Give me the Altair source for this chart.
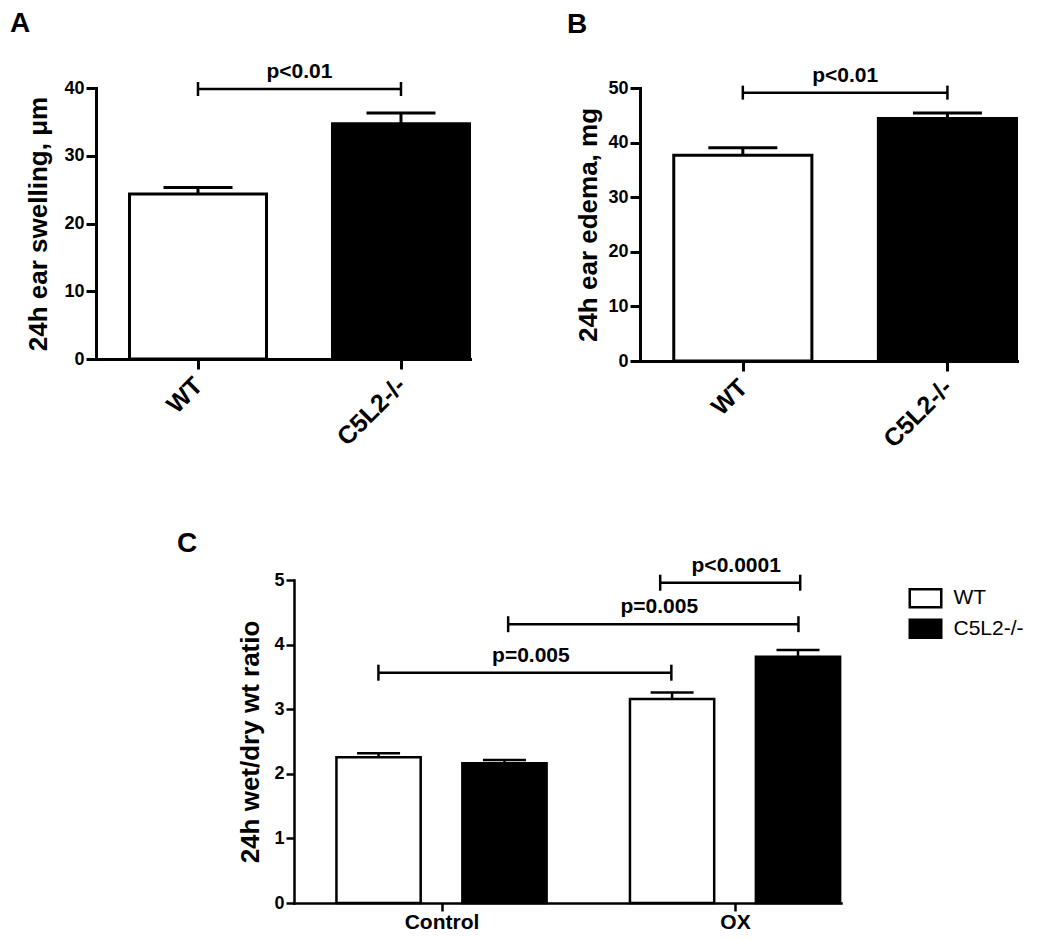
import json
import altair as alt
import pandas as pd

FONT = "Liberation Sans"

# ---------------- Panel A : 24h ear swelling ----------------
a_groups = ["WT", "C5L2-/-"]
a_means = [24.35, 34.73]
a_sems = [0.98, 1.57]
a_br_from = [1.0]
a_br_to = [2.0]
a_br_y = [39.85]
a_br_text = ["p<0.01"]
a_ticks = [0, 10, 20, 30, 40]

# ---------------- Panel B : 24h ear edema ----------------
b_groups = ["WT", "C5L2-/-"]
b_means = [37.7, 44.4]
b_sems = [1.35, 1.04]
b_br_from = [1.0]
b_br_to = [2.0]
b_br_y = [49.15]
b_br_text = ["p<0.01"]
b_ticks = [0, 10, 20, 30, 40, 50]

# ---------------- Panel C : wet/dry ratio ----------------
c_groups = ["Control", "OX"]
c_genotypes = ["WT", "C5L2-/-"]
c_cond = ["Control", "Control", "OX", "OX"]
c_geno = ["WT", "C5L2-/-", "WT", "C5L2-/-"]
c_means = [2.255, 2.163, 3.158, 3.81]
c_sems = [0.062, 0.051, 0.102, 0.106]
c_br_from = [0.785, 1.227, 1.745]
c_br_to = [1.783, 2.216, 2.222]
c_br_y = [3.565, 4.316, 4.958]
c_br_text = ["p=0.005", "p=0.005", "p<0.0001"]
c_ticks = [0, 1, 2, 3, 4, 5]


def letter(t, dx, dy=0, offset=0):
    return alt.TitleParams(t, anchor="start", frame="group", dx=dx, dy=dy, offset=offset,
                           fontSize=28, font=FONT, fontWeight="bold", color="black")


def y_axis(ticks, title, lw, tsize, tpad):
    return alt.Axis(values=ticks, title=title, grid=False, domainColor="black", domainWidth=lw,
                    domainCap="square", tickColor="black", tickWidth=lw, tickSize=tsize,
                    labelFont=FONT, labelFontWeight="bold", labelFontSize=18, labelColor="black",
                    labelPadding=2, titleFont=FONT, titleFontWeight="bold", titleFontSize=26,
                    titleColor="black", titlePadding=tpad)


def brackets(df, X, Y, lw, cap, fs, dx):
    base = alt.Chart(df)
    line = base.mark_rule(color="black", strokeWidth=lw).encode(x=X("x1"), x2="x2:Q", y=Y("y"))
    e1 = base.mark_tick(orient="vertical", color="black", size=cap, thickness=lw, opacity=1).encode(
        x=X("x1"), y=Y("y"))
    e2 = base.mark_tick(orient="vertical", color="black", size=cap, thickness=lw, opacity=1).encode(
        x=X("x2"), y=Y("y"))
    txt = base.transform_calculate(xm="(datum.x1 + datum.x2) / 2").mark_text(
        font=FONT, fontWeight="bold", fontSize=fs, dy=-11, dx=dx, baseline="alphabetic",
        align="center", color="black").encode(x=X("xm"), y=Y("y"), text="label:N")
    return [line, e1, e2, txt]


def two_bar_panel(groups, means, sems, br_from, br_to, br_y, br_text, ticks, ytitle,
                  ymax, w, h, title, tpad):
    df = pd.DataFrame({"group": groups, "mean": means, "sem": sems,
                       "idx": [groups.index(g) + 1 for g in groups]})
    bdf = pd.DataFrame({"x1": br_from, "x2": br_to, "y": br_y, "label": br_text})
    xscale = alt.Scale(domain=[0.4975, 2.34], nice=False, zero=False)
    yscale = alt.Scale(domain=[0, ymax], nice=False)
    xaxis = alt.Axis(values=list(range(1, len(groups) + 1)),
                     labelExpr=json.dumps(groups) + "[datum.value - 1]",
                     title=None, grid=False, domainColor="black", domainWidth=3, domainCap="square",
                     tickColor="black", tickWidth=3, tickSize=10, labelAngle=-45, labelAlign="right",
                     labelBaseline="middle", labelFont=FONT, labelFontWeight="bold", labelFontSize=25,
                     labelColor="black", labelPadding=12)
    yaxis = y_axis(ticks, ytitle, 3, 10, tpad)

    def X(f):
        return alt.X(f, type="quantitative", scale=xscale, axis=xaxis)

    def Y(f):
        return alt.Y(f, type="quantitative", scale=yscale, axis=yaxis)

    base = alt.Chart(df).transform_calculate(
        lo="datum.idx - 0.3375", hi="datum.idx + 0.3375", top="datum.mean + datum.sem")
    bars = base.mark_bar(stroke="black", strokeWidth=3).encode(
        x=X("lo"), x2="hi:Q", y=Y("mean"), y2=alt.datum(0),
        fill=alt.condition(alt.datum.group == groups[0], alt.value("white"), alt.value("black")))
    err = base.mark_rule(color="black", strokeWidth=3).encode(x=X("idx"), y=Y("mean"), y2="top:Q")
    capm = base.mark_tick(orient="horizontal", color="black", size=69, thickness=3, opacity=1).encode(
        x=X("idx"), y=Y("top"))
    layers = [bars, err, capm] + brackets(bdf, X, Y, 2.5, 14, 21, 0)
    return alt.layer(*layers).properties(width=w, height=h, title=title)


A = two_bar_panel(a_groups, a_means, a_sems, a_br_from, a_br_to, a_br_y, a_br_text, a_ticks,
                  "24h ear swelling, \u03bcm", 40, 374, 271, letter("A", -86, offset=23), 12)
B = two_bar_panel(b_groups, b_means, b_sems, b_br_from, b_br_to, b_br_y, b_br_text, b_ticks,
                  "24h ear edema, mg", 50, 377, 273, letter("B", -73, offset=26), 6)

# ---------------- Panel C ----------------
cdf = pd.DataFrame({"cond": c_cond, "genotype": c_geno, "mean": c_means, "sem": c_sems,
                    "idx": [c_groups.index(c) + 1 for c in c_cond]})
cbdf = pd.DataFrame({"x1": c_br_from, "x2": c_br_to, "y": c_br_y, "label": c_br_text})
cx_scale = alt.Scale(domain=[0.4974, 2.361], nice=False, zero=False)
cy_scale = alt.Scale(domain=[0, 5], nice=False)
cx_axis = alt.Axis(values=[1, 2], labelExpr=json.dumps(c_groups) + "[datum.value - 1]",
                   title=None, grid=False, domainColor="black", domainWidth=2.5, domainCap="square",
                   tickColor="black", tickWidth=2.5, tickSize=8, labelAngle=0, labelAlign="center",
                   labelBaseline="top", labelFont=FONT, labelFontWeight="bold", labelFontSize=21,
                   labelColor="black", labelPadding=0)
cy_axis = y_axis(c_ticks, "24h wet/dry wt ratio", 2.5, 8, 10)


def CX(f):
    return alt.X(f, type="quantitative", scale=cx_scale, axis=cx_axis)


def CY(f):
    return alt.Y(f, type="quantitative", scale=cy_scale, axis=cy_axis)


cbase = alt.Chart(cdf).transform_calculate(
    xc="datum.idx + (datum.genotype == 'WT' ? -0.2145 : 0.2145)",
    top="datum.mean + datum.sem").transform_calculate(
    lo="datum.xc - 0.1435", hi="datum.xc + 0.1435")
cbars = cbase.mark_bar(stroke="black", strokeWidth=2.5).encode(
    x=CX("lo"), x2="hi:Q", y=CY("mean"), y2=alt.datum(0),
    fill=alt.Fill("genotype:N", scale=alt.Scale(domain=c_genotypes, range=["white", "black"]),
                  legend=alt.Legend(title=None, orient="none", legendX=621, legendY=7.75,
                                    symbolType="M-1.75,-1H1.75V1H-1.75Z", symbolSize=324,
                                    symbolStrokeColor="black", symbolStrokeWidth=2.5,
                                    labelFont=FONT, labelFontSize=21, labelColor="black",
                                    labelOffset=17.5, rowPadding=1.5, padding=0)))
cerr = cbase.mark_rule(color="black", strokeWidth=2.5).encode(x=CX("xc"), y=CY("mean"), y2="top:Q")
ccap = cbase.mark_tick(orient="horizontal", color="black", size=43, thickness=2.5, opacity=1).encode(
    x=CX("xc"), y=CY("top"))
C = alt.layer(cbars, cerr, ccap, *brackets(cbdf, CX, CY, 2.5, 16, 21, 6)).properties(
    width=547, height=323, title=letter("C", -117, dy=3))

spacer = alt.Chart(pd.DataFrame({"s": [0]})).mark_point(opacity=0, size=1).encode(
    x=alt.value(0), y=alt.value(0)).properties(width=81, height=10)

top = alt.hconcat(A, B, spacing=96)
bottom = alt.hconcat(spacer, C, spacing=0).resolve_legend(fill="independent")
chart = (alt.vconcat(top, bottom, spacing=76, center=False)
         .resolve_legend(fill="independent")
         .properties(padding={"left": 2, "top": 2, "right": 0, "bottom": 0})
         .configure_view(stroke=None))

chart.save("out.html", embed_options={"renderer": "svg", "actions": False})
